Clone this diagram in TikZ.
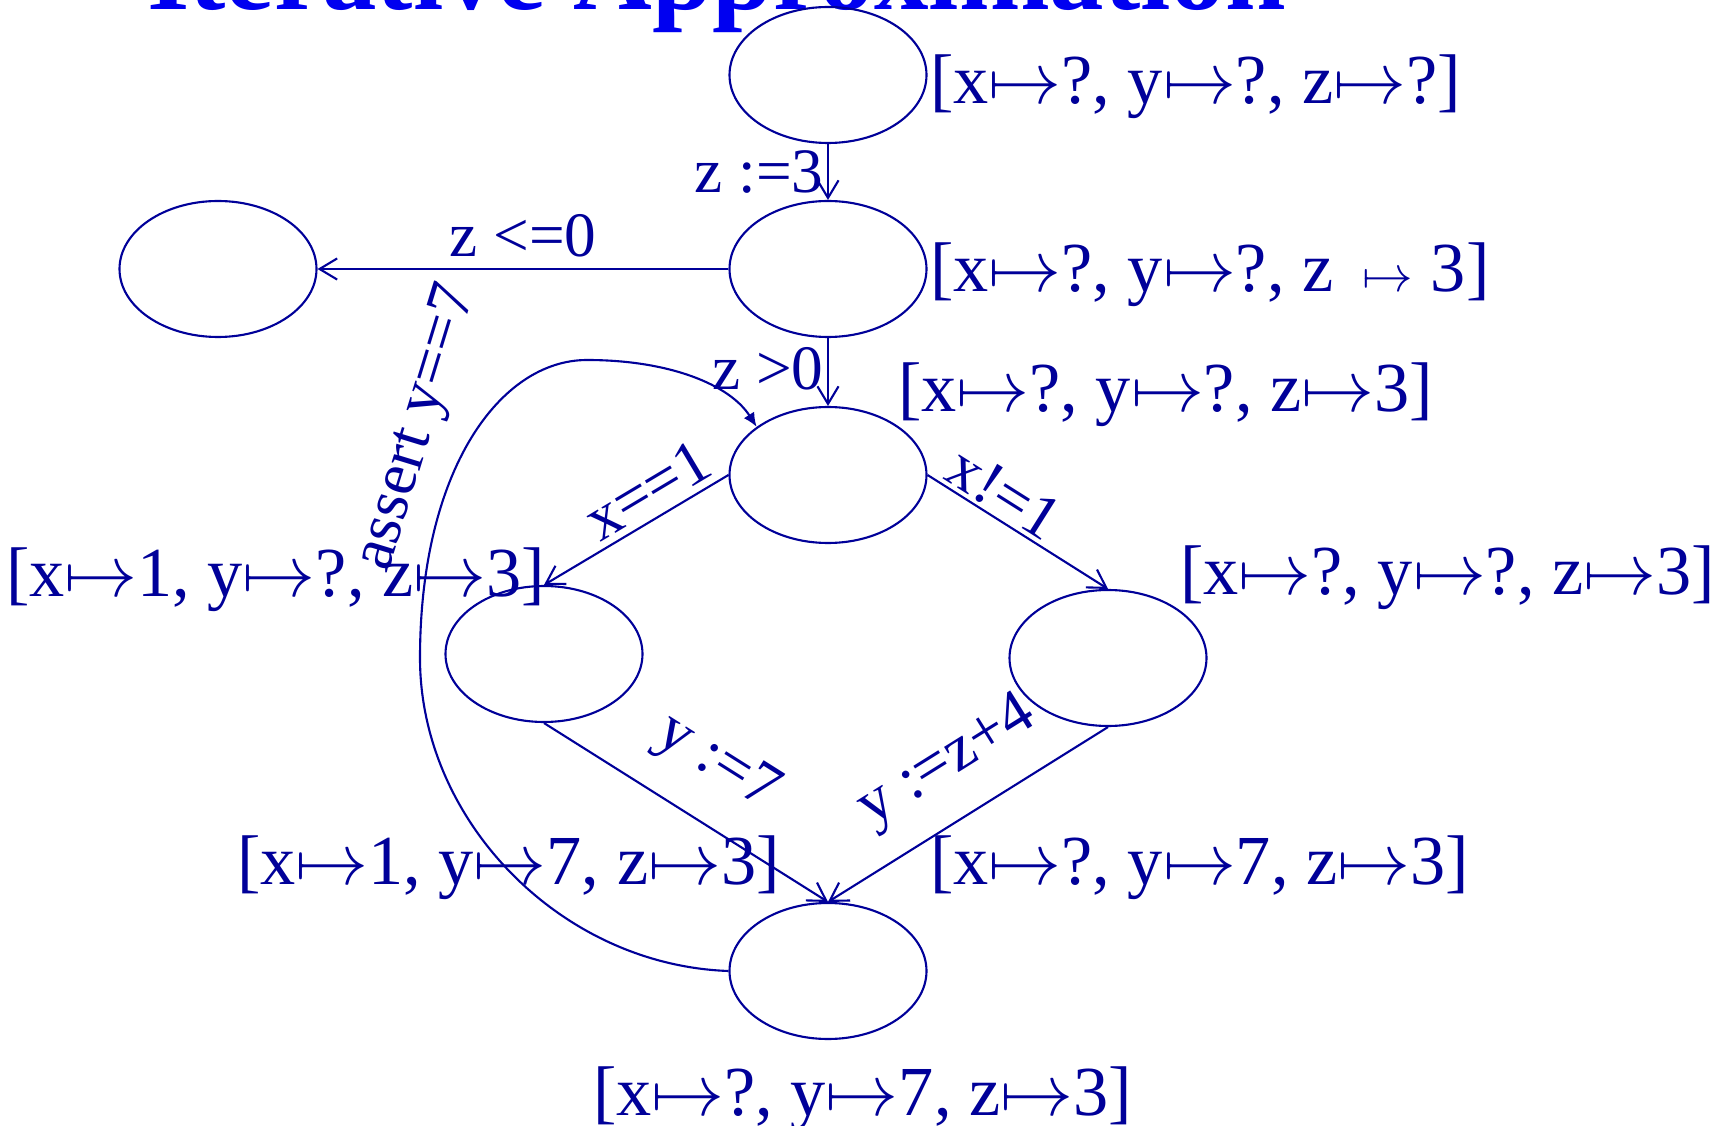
\documentclass[tikz,border=0pt]{standalone}
\usepackage{fontspec}
\setmainfont{Liberation Serif}
\usetikzlibrary{shapes.geometric, arrows.meta, positioning}
\definecolor{blu}{RGB}{0,0,153}
\definecolor{titleblue}{RGB}{0,0,240}

\begin{document}
\begin{tikzpicture}[>={Straight Barb[length=5pt,width=6pt]}, line width=0.6pt, color=blu]
    % Stili
    \tikzstyle{stato} = [draw, ellipse, minimum width=1.97cm, minimum height=1.36cm, inner sep=0pt]
    \tikzstyle{env} = [anchor=base west, inner sep=0pt, font=\fontsize{20}{24}\selectfont]
    \tikzstyle{cond} = [font=\fontsize{18}{22}\selectfont]

    \clip (0,0) rectangle (17.2,11.25);
    \fill [white] (0,0) rectangle (17.2,11.25);

    % Titolo
    \node [anchor=base west, inner sep=0pt, text=titleblue, font=\fontsize{31}{36}\selectfont\bfseries] (titolo) at (1.46,11.15) {Iterative Approximation};

    % Nodi
    \node [stato] (s0) at (8.28,10.50) {};
    \node [stato, below of=s0, node distance=1.94cm] (s1) {};
    \node [stato, left of=s1, node distance=6.1cm] (sL) {};
    \node [stato, below of=s1, node distance=2.06cm] (s2) {};
    \node [stato, below of=s2, node distance=1.79cm, xshift=-2.84cm] (sA) {};
    \node [stato, below of=s2, node distance=1.83cm, xshift=2.80cm] (sB) {};
    \node [stato, below of=s2, node distance=4.96cm] (s5) {};

    % Ambienti
    \node [env] (e0) at (9.29,10.21) {[x$\mapsto$?, y$\mapsto$?, z$\mapsto$?]};
    \node [env] (e1) at (9.29,8.33) {[x$\mapsto$?, y$\mapsto$?, z\,\ $\scriptstyle\mapsto$\ 3]};
    \node [env] (e2) at (8.97,7.13) {[x$\mapsto$?, y$\mapsto$?, z$\mapsto$3]};
    \node [env] (eA) at (0.05,5.29) {[x$\mapsto$1, y$\mapsto$?, z$\mapsto$3]};
    \node [env] (eB) at (11.79,5.31) {[x$\mapsto$?, y$\mapsto$?, z$\mapsto$3]};
    \node [env] (eC) at (2.36,2.41) {[x$\mapsto$1, y$\mapsto$7, z$\mapsto$3]};
    \node [env] (eD) at (9.29,2.41) {[x$\mapsto$?, y$\mapsto$7, z$\mapsto$3]};
    \node [env] (e5) at (5.92,0.10) {[x$\mapsto$?, y$\mapsto$7, z$\mapsto$3]};

    % Collegamenti
    \draw [->] (s0) -- node [cond, left, inner sep=1pt] {z :=3} (s1);
    \draw [->] (s1.west) -- node [cond, above, inner sep=3pt] {z <=0} (sL.east);
    \draw [->] (s1) -- node [cond, left, inner sep=1pt, pos=0.45] {z >0} (s2);
    \draw [->] (s2.west) -- node [cond, sloped, above, inner sep=2pt, pos=0.36] {x==1} (sA.north);
    \draw [->] (s2.east) -- node [cond, sloped, above, inner sep=1pt, pos=0.35] {x!=1} (sB.north);
    \draw [->] (sA.south) -- node [cond, sloped, above=5pt, pos=0.5] {y :=7} (s5.north);
    \draw [->] (sB.south) -- node [cond, sloped, above=4pt, pos=0.47] {y :=z+4} (s5.north);

    % Ciclo
    \draw [-{Latex[length=4pt,width=3.5pt]}] (s5.west) .. controls (5.60,1.60) and (4.20,3.05) .. (4.20,4.67)
        .. controls (4.20,6.55) and (5.00,7.65) .. (5.87,7.65)
        .. controls (6.70,7.65) and (7.30,7.40) .. (s2.146);
    \node [cond, rotate=73] (assert) at (4.18,6.97) {assert y==7};

\end{tikzpicture}
\end{document}
